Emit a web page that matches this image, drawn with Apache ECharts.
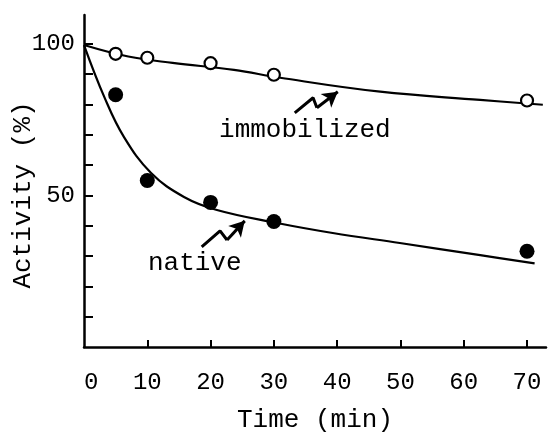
<!DOCTYPE html>
<html>
<head>
<meta charset="utf-8">
<script src="https://cdn.jsdelivr.net/npm/echarts@6/dist/echarts.min.js"></script>
<style>
  html, body { margin: 0; padding: 0; background: #fff; }
  #chart { width: 548px; height: 434px; }
</style>
</head>
<body>
<div id="chart"></div>
<script>
// measured points (time in min, activity in %)
const sampleTimes = [5, 10, 20, 30, 70]
const immobilizedValues = [96.7, 95.4, 93.6, 89.8, 81.3]
const nativeValues = [83.2, 54.9, 47.7, 41.4, 31.6]

// fitted curves
const immobilizedCurve = [[0, 99.6], [7, 95.8], [14, 93.7], [23.7, 91.4], [31, 88.8], [46.8, 84.2], [62.6, 81.5], [72.5, 79.9]]
const nativeCurve = [[0, 99.6], [3.2, 82.5], [6.3, 69.3], [10.6, 57.4], [15.8, 49.5], [21, 45.2], [30.5, 40.9], [39.3, 37.6], [49.9, 34.3], [62.6, 30.3], [71.2, 27.6]]

// zigzag arrows + labels (data coords)
const immobilizedArrow = [[33.3, 77.2], [36.2, 82.2], [36.8, 78.9]]
const immobilizedArrowHead = [[36.8, 78.9], [40.1, 84.2]]
const immobilizedLabel = [34.9, 71.6]
const nativeArrow = [[18.6, 33.0], [21.5, 38.3], [22.6, 35.3]]
const nativeArrowHead = [[22.6, 35.3], [25.4, 41.6]]
const nativeLabel = [17.5, 27.7]

const xTicks = [10, 20, 30, 40, 50, 60, 70]
const xLabels = [0, 10, 20, 30, 40, 50, 60, 70]
const yTicks = [10, 20, 30, 40, 50, 60, 70, 80, 90, 100]
const yLabels = [50, 100]

const font = 'Liberation Mono'
const ink = '#000'

function pair(xs, ys) {
  return xs.map((x, i) => [x, ys[i]])
}

function arrowSeries(points, head, labelPos, text) {
  return {
    type: 'line',
    data: points,
    symbol: 'none',
    silent: true,
    lineStyle: { color: ink, width: 3 },
    markLine: {
      silent: true,
      symbol: ['none', 'arrow'],
      symbolSize: [13, 15],
      label: { show: false },
      lineStyle: { color: ink, width: 3, type: 'solid' },
      data: [[{ coord: head[0] }, { coord: head[1] }]]
    },
    markPoint: {
      silent: true,
      symbol: 'circle',
      symbolSize: 0,
      label: {
        show: true,
        position: 'inside',
        formatter: text,
        color: ink,
        fontFamily: font,
        fontSize: 26
      },
      data: [{ coord: labelPos }]
    }
  }
}

const chart = echarts.init(document.getElementById('chart'))
const option = {
  backgroundColor: '#fff',
  animation: false,
  grid: { left: 84, right: 2, top: 15, bottom: 87, containLabel: false, outerBoundsMode: 'none' },
  xAxis: {
    type: 'value',
    min: 0,
    max: 73,
    name: 'Time (min)',
    nameLocation: 'middle',
    nameGap: 60,
    nameMoveOverlap: false,
    nameTextStyle: { color: ink, fontFamily: font, fontSize: 26 },
    axisLine: { onZero: false, lineStyle: { color: ink, width: 2.5 } },
    axisTick: { inside: true, length: 7, customValues: xTicks, lineStyle: { color: ink, width: 2 } },
    axisLabel: {
      customValues: xLabels,
      margin: 24,
      alignMinLabel: 'left',
      color: ink,
      fontFamily: font,
      fontSize: 24
    },
    splitLine: { show: false }
  },
  yAxis: {
    type: 'value',
    min: 0,
    max: 109.5,
    name: 'Activity (%)',
    nameLocation: 'middle',
    nameRotate: 90,
    nameGap: 48,
    nameMoveOverlap: false,
    nameTextStyle: { color: ink, fontFamily: font, fontSize: 26, padding: [0, 28, 0, 0] },
    axisLine: { onZero: false, lineStyle: { color: ink, width: 2.5 } },
    axisTick: { inside: true, length: 9, customValues: yTicks, lineStyle: { color: ink, width: 2 } },
    axisLabel: {
      customValues: yLabels,
      margin: 9,
      color: ink,
      fontFamily: font,
      fontSize: 24
    },
    splitLine: { show: false }
  },
  series: [
    {
      type: 'line',
      data: immobilizedCurve,
      smooth: 0.4,
      symbol: 'none',
      lineStyle: { color: ink, width: 2.2 }
    },
    {
      type: 'line',
      data: nativeCurve,
      smooth: 0.4,
      symbol: 'none',
      lineStyle: { color: ink, width: 2.2 }
    },
    {
      type: 'scatter',
      data: pair(sampleTimes, immobilizedValues),
      symbol: 'circle',
      symbolSize: 12,
      itemStyle: { color: '#fff', borderColor: ink, borderWidth: 2.2, opacity: 1 },
      z: 5
    },
    {
      type: 'scatter',
      data: pair(sampleTimes, nativeValues),
      symbol: 'circle',
      symbolSize: 15,
      itemStyle: { color: ink, opacity: 1 },
      z: 5
    },
    arrowSeries(immobilizedArrow, immobilizedArrowHead, immobilizedLabel, 'immobilized'),
    arrowSeries(nativeArrow, nativeArrowHead, nativeLabel, 'native')
  ]
}
chart.setOption(option)
</script>
</body>
</html>
